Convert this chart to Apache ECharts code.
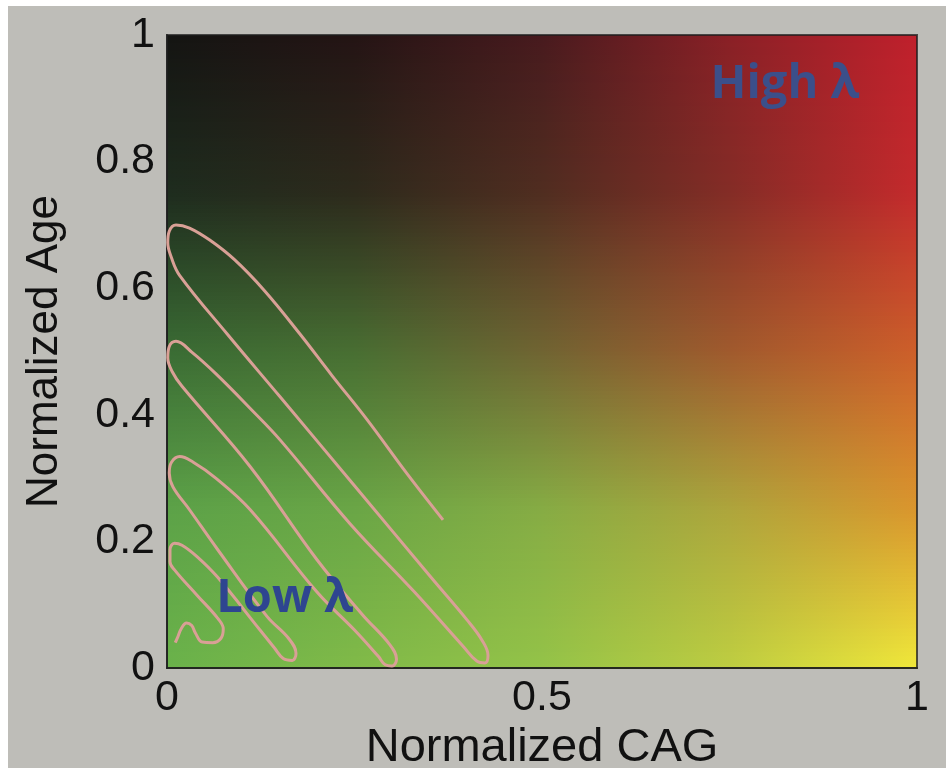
<!DOCTYPE html>
<html><head><meta charset="utf-8">
<script src="https://cdn.jsdelivr.net/npm/echarts@6/dist/echarts.min.js"></script>
<style>html,body{margin:0;padding:0;background:#fff}#c{width:946px;height:768px}</style>
</head><body><div id="c"></div>
<script>
// ---------- data ----------
const xTickLabels = ['0', '0.5', '1'];
const yTickLabels = ['0', '0.2', '0.4', '0.6', '0.8', '1'];
const xName = 'Normalized CAG';
const yName = 'Normalized Age';

// serpentine pink curve (x = CAG, y = Age)
const trajectory = [
  [0.368,0.234],[0.320,0.307],[0.267,0.392],[0.220,0.462],[0.177,0.528],[0.130,0.596],
  [0.090,0.645],[0.057,0.676],[0.030,0.695],[0.012,0.700],[0.003,0.690],[0.001,0.672],
  [0.006,0.648],[0.017,0.620],[0.080,0.528],[0.151,0.428],[0.250,0.288],[0.350,0.146],
  [0.400,0.076],[0.420,0.044],[0.428,0.020],[0.424,0.008],[0.413,0.011],[0.395,0.034],
  [0.330,0.120],[0.244,0.228],[0.151,0.360],[0.111,0.410],[0.065,0.465],[0.033,0.499],
  [0.012,0.516],[0.003,0.508],[0.001,0.490],[0.007,0.468],[0.020,0.445],[0.111,0.318],
  [0.200,0.171],[0.260,0.085],[0.297,0.037],[0.306,0.014],[0.300,0.003],[0.291,0.005],
  [0.282,0.018],[0.250,0.060],[0.200,0.120],[0.111,0.250],[0.065,0.300],[0.035,0.325],
  [0.017,0.334],[0.006,0.325],[0.003,0.308],[0.008,0.286],[0.030,0.250],[0.067,0.188],
  [0.133,0.082],[0.162,0.047],[0.172,0.023],[0.167,0.012],[0.155,0.015],[0.143,0.032],
  [0.124,0.060],[0.067,0.144],[0.040,0.176],[0.020,0.194],[0.010,0.197],[0.004,0.187],
  [0.004,0.168],[0.010,0.155],[0.040,0.115],[0.068,0.078],[0.075,0.062],[0.072,0.047],
  [0.061,0.040],[0.047,0.041],[0.038,0.055],[0.033,0.067],[0.026,0.071],[0.019,0.062],
  [0.014,0.048],[0.011,0.040]
];

// background colour field at these positions
const fieldXs = [0, 0.25, 0.5, 0.75, 1];
const fieldYs = [0, 0.25, 0.5, 0.75, 1];
const colorsY000 = [[106,178,74],[128,186,72],[148,195,72],[190,205,65],[240,232,58]];
const colorsY025 = [[92,162,72],[106,166,70],[134,172,68],[174,165,60],[218,150,45]];
const colorsY050 = [[58,108,52],[72,110,50],[112,100,50],[160,90,45],[205,95,42]];
const colorsY075 = [[30,44,30],[45,42,28],[80,45,32],[132,44,38],[196,42,44]];
const colorsY100 = [[20,20,18],[36,20,20],[72,26,30],[138,32,38],[192,32,44]];

const annotations = [
  { text: 'High λ', x: 0.824, y: 0.921, color: '#3b4f8a' },
  { text: 'Low λ',  x: 0.157, y: 0.109, color: '#2e4590' }
];

// ---------- chart ----------
const chart = echarts.init(document.getElementById('c'), null, { renderer: 'canvas' });
const font = '"Liberation Sans", Arial, sans-serif';

chart.setOption({
  backgroundColor: '#bebdb8',
  animation: false,
  grid: { left: 167, right: 29, top: 35, bottom: 100, show: true, z: 3,
          outerBoundsMode: 'none', containLabel: false,
          backgroundColor: 'transparent', borderColor: 'rgba(30,30,30,0.75)', borderWidth: 2 },
  xAxis: {
    type: 'value', min: 0, max: 1, interval: 0.5,
    axisLine: { show: true, onZero: false, lineStyle: { color: 'rgba(30,30,30,0.75)', width: 2 } },
    axisTick: { show: false }, splitLine: { show: false },
    axisLabel: { margin: 9, fontSize: 43, color: '#111', fontFamily: font,
      formatter: v => xTickLabels[Math.round(v / 0.5)] },
    name: xName, nameLocation: 'middle', nameGap: 48,
    nameTextStyle: { fontSize: 47, color: '#111', fontFamily: font }
  },
  yAxis: {
    type: 'value', min: 0, max: 1, interval: 0.2,
    axisLine: { show: true, onZero: false, lineStyle: { color: 'rgba(30,30,30,0.75)', width: 2 } },
    axisTick: { show: false }, splitLine: { show: false },
    axisLabel: { margin: 12, fontSize: 43, color: '#111', fontFamily: font,
      formatter: v => yTickLabels[Math.round(v / 0.2)] },
    name: yName, nameLocation: 'middle', nameGap: 100,
    nameTextStyle: { fontSize: 44, color: '#111', fontFamily: font }
  },
  series: [{
    type: 'line', data: trajectory, z: 5, symbol: 'none', smooth: 0.4,
    lineStyle: { color: '#d9a096', width: 3 }, silent: true
  }]
});

// background field + annotations placed through the axes
const p0 = chart.convertToPixel({ gridIndex: 0 }, [0, 0]);
const p1 = chart.convertToPixel({ gridIndex: 0 }, [1, 1]);
const rows = [colorsY000, colorsY025, colorsY050, colorsY075, colorsY100];
function rowAt(v) {
  let k = 0;
  while (k < fieldYs.length - 2 && v > fieldYs[k + 1]) k++;
  const t = (v - fieldYs[k]) / (fieldYs[k + 1] - fieldYs[k]);
  return rows[k].map((c, i) => c.map((ch, j) => Math.round(ch + (rows[k + 1][i][j] - ch) * t)));
}
const elements = [
  { type: 'rect', z: -20, silent: true, shape: { x: 0, y: 0, width: 946, height: 6 }, style: { fill: '#ffffff' } },
  { type: 'rect', z: -20, silent: true, shape: { x: 0, y: 0, width: 8, height: 768 }, style: { fill: '#ffffff' } }
];
const N = 160;
const W = p1[0] - p0[0], H = p0[1] - p1[1];
for (let i = 0; i < N; i++) {
  const v = 1 - (i + 0.5) / N;
  const cols = rowAt(v);
  elements.push({
    type: 'rect', z: -5, silent: true,
    shape: { x: p0[0], y: p1[1] + i * H / N, width: W, height: H / N + 1 },
    style: { fill: { type: 'linear', x: 0, y: 0, x2: 1, y2: 0,
      colorStops: cols.map((c, k) => ({ offset: fieldXs[k], color: 'rgb(' + c.join(',') + ')' })) } }
  });
}
annotations.forEach(a => {
  const p = chart.convertToPixel({ gridIndex: 0 }, [a.x, a.y]);
  elements.push({ type: 'text', z: 10, silent: true, x: p[0], y: p[1],
    style: { text: a.text, fill: a.color, fontSize: 47, fontWeight: 'bold',
             fontFamily: '"Open Sans", "Noto Sans", sans-serif', align: 'center', verticalAlign: 'middle' } });
});
chart.setOption({ graphic: { elements } });
</script>
</body></html>
